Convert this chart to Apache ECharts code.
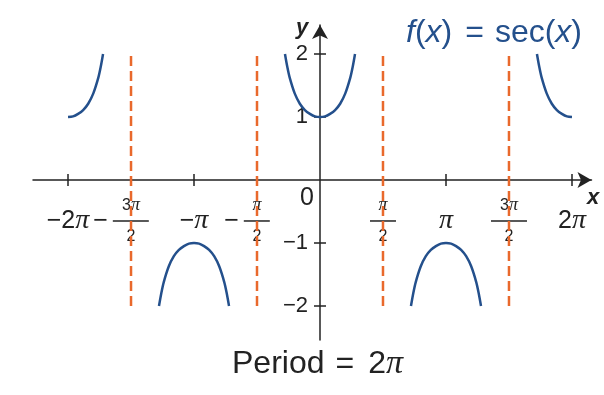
<!DOCTYPE html>
<html><head><meta charset="utf-8">
<script src="https://cdn.jsdelivr.net/npm/echarts@6/dist/echarts.min.js"></script>
<style>html,body{margin:0;padding:0;background:#fff}#c{width:604px;height:395px}</style>
</head><body><div id="c"></div>
<script>
// x values are in units of π
const leftBranchX = [-2, -1.96, -1.92, -1.88, -1.84, -1.80, -1.76, -1.74, -1.722];
const leftBranchY = [1.0, 1.01, 1.05, 1.11, 1.21, 1.37, 1.62, 1.80, 2.0];
const negBranch1X = [-1.278, -1.26, -1.24, -1.20, -1.16, -1.12, -1.08, -1.04, -1, -0.96, -0.92, -0.88, -0.84, -0.80, -0.76, -0.74, -0.722];
const negBranch1Y = [-2.0, -1.80, -1.62, -1.37, -1.21, -1.11, -1.05, -1.01, -1.0, -1.01, -1.05, -1.11, -1.21, -1.37, -1.62, -1.80, -2.0];
const centerBranchX = [-0.278, -0.26, -0.24, -0.20, -0.16, -0.12, -0.08, -0.04, 0, 0.04, 0.08, 0.12, 0.16, 0.20, 0.24, 0.26, 0.278];
const centerBranchY = [2.0, 1.80, 1.62, 1.37, 1.21, 1.11, 1.05, 1.01, 1.0, 1.01, 1.05, 1.11, 1.21, 1.37, 1.62, 1.80, 2.0];
const negBranch2X = [0.722, 0.74, 0.76, 0.80, 0.84, 0.88, 0.92, 0.96, 1, 1.04, 1.08, 1.12, 1.16, 1.20, 1.24, 1.26, 1.278];
const negBranch2Y = [-2.0, -1.80, -1.62, -1.37, -1.21, -1.11, -1.05, -1.01, -1.0, -1.01, -1.05, -1.11, -1.21, -1.37, -1.62, -1.80, -2.0];
const rightBranchX = [1.722, 1.74, 1.76, 1.80, 1.84, 1.88, 1.92, 1.96, 2];
const rightBranchY = [2.0, 1.80, 1.62, 1.37, 1.21, 1.11, 1.05, 1.01, 1.0];

const asymptotes = [-1.5, -0.5, 0.5, 1.5];
const asymptoteSpan = [-2, 2];

const xTickValues = [-2, -1, 1, 2];
const xLabelValues = [-2, -1.5, -1, -0.5, 0, 0.5, 1, 1.5, 2];
const xLabelTexts = ['−2π', '−3π/2', '−π', '−π/2', '0', 'π/2', 'π', '3π/2', '2π'];
const yTickValues = [-2, -1, 1, 2];
const yLabelTexts = ['−2', '−1', '1', '2'];

const BLUE = '#24508c';
const ORANGE = '#e9692c';
const INK = '#222';
const SANS = 'Liberation Sans, Arial, sans-serif';
const SERIF = 'Liberation Serif, Times New Roman, serif';

function zip(xs, ys) { return xs.map((x, i) => [x, ys[i]]); }

function piRich(s, tStyle, pStyle) {
  return s.split(/(π)/).filter(p => p !== '').map(p => p === 'π' ? '{' + pStyle + '|π}' : '{' + tStyle + '|' + p + '}').join('');
}

function fmtX(v) {
  const i = xLabelValues.findIndex(a => Math.abs(a - v) < 1e-6);
  if (i < 0) return '';
  let s = xLabelTexts[i];
  if (s === '0') return '{z|0}';
  const neg = s[0] === '−';
  if (s.indexOf('/') >= 0) {
    if (neg) s = s.slice(1);
    const [num, den] = s.split('/');
    const barStyle = num.length > 1 ? 'barW' : 'bar';
    return piRich(num, 'n', 'np') + '\n' +
      (neg ? '{m|−}' : '') + '{' + barStyle + '| }' + (neg ? '{sp| }' : '') + '\n' +
      '{d|' + den + '}';
  }
  return piRich(s, 't', 'pi');
}

function fmtY(v) {
  const i = yTickValues.findIndex(a => Math.abs(a - v) < 1e-6);
  return i < 0 ? '' : yLabelTexts[i];
}

const W = 604, H = 395;
const G = { left: 33, right: 12.5, top: 25, bottom: 55 };
const xRange = { min: -2.278, max: 2.155 };
const yRange = { min: -2.54, max: 2.46 };
const gridW = W - G.left - G.right;
const gridH = H - G.top - G.bottom;
// where the value 0 falls inside the grid (used to move the axes through the origin)
const zeroFromLeft = (0 - xRange.min) / (xRange.max - xRange.min) * gridW;
const zeroFromBottom = (0 - yRange.min) / (yRange.max - yRange.min) * gridH;

const axisLineStyle = { color: INK, width: 1.5 };

const curves = [
  zip(leftBranchX, leftBranchY),
  zip(negBranch1X, negBranch1Y),
  zip(centerBranchX, centerBranchY),
  zip(negBranch2X, negBranch2Y),
  zip(rightBranchX, rightBranchY)
];

const series = [];
asymptotes.forEach(a => {
  series.push({
    type: 'line', data: asymptoteSpan.map(y => [a, y]), showSymbol: false, symbol: 'none',
    lineStyle: { color: ORANGE, width: 2.5, type: [10, 5] }, silent: true, z: 3
  });
});
curves.forEach(c => {
  series.push({
    type: 'line', data: c, showSymbol: false, symbol: 'none', smooth: 0.3,
    lineStyle: { color: BLUE, width: 2.5 }, silent: true, z: 4
  });
});

const chart = echarts.init(document.getElementById('c'), null, { renderer: 'canvas' });
chart.setOption({
  animation: false,
  backgroundColor: '#fff',
  grid: { left: G.left, right: G.right, top: G.top, bottom: G.bottom, containLabel: false, outerBoundsMode: 'none' },
  title: [
    {
      text: '{i|f}{r|(}{i|x}{r|)}{eq|=}{r|sec(}{i|x}{r|)}',
      left: 406, top: 17, padding: 0,
      textStyle: {
        fontWeight: 'normal',
        rich: {
          i: { fontFamily: SANS, fontSize: 32, fontStyle: 'italic', fontWeight: 'normal', color: BLUE },
          r: { fontFamily: SANS, fontSize: 32, fontWeight: 'normal', color: BLUE },
          eq: { fontFamily: SANS, fontSize: 32, fontWeight: 'normal', color: BLUE, padding: [0, 11, 0, 13] }
        }
      }
    },
    {
      text: '{t|Period}{eq|=}{t|2}{pi|π}',
      left: 232, top: 347, padding: 0,
      textStyle: {
        fontWeight: 'normal',
        rich: {
          t: { fontFamily: SANS, fontSize: 32, fontWeight: 'normal', color: INK },
          eq: { fontFamily: SANS, fontSize: 32, fontWeight: 'normal', color: INK, padding: [0, 14, 0, 11] },
          pi: { fontFamily: SERIF, fontSize: 34, fontStyle: 'italic', fontWeight: 'normal', color: INK }
        }
      }
    }
  ],
  xAxis: [
    {
      type: 'value', min: xRange.min, max: xRange.max, position: 'bottom', offset: -zeroFromBottom,
      axisLine: { show: true, onZero: false, lineStyle: axisLineStyle, symbol: ['none', 'arrow'], symbolSize: [12, 14] },
      axisTick: { show: true, customValues: xTickValues, length: 6, lineStyle: axisLineStyle },
      splitLine: { show: false },
      name: '{a|x}', nameLocation: 'end', nameGap: 0, nameMoveOverlap: false,
      nameTextStyle: {
        align: 'center', verticalAlign: 'middle',
        rich: { a: { fontFamily: SANS, fontSize: 22, fontWeight: 'bold', fontStyle: 'italic', color: INK, padding: [36, 0, 0, 3] } }
      },
      axisLabel: {
        show: true, customValues: xLabelValues, formatter: fmtX, margin: 41, verticalAlign: 'middle', hideOverlap: false,
        color: INK,
        rich: {
          t: { fontFamily: SANS, fontSize: 25, color: INK, align: 'center' },
          pi: { fontFamily: SERIF, fontSize: 28, fontStyle: 'italic', color: INK, align: 'center' },
          n: { fontFamily: SANS, fontSize: 16, color: INK, align: 'center', lineHeight: 29 },
          np: { fontFamily: SERIF, fontSize: 18, fontStyle: 'italic', color: INK, align: 'center', lineHeight: 29 },
          d: { fontFamily: SANS, fontSize: 16, color: INK, align: 'center', lineHeight: 29 },
          bar: { width: 26, height: 1.5, lineHeight: 2, backgroundColor: INK, align: 'center', fontSize: 1 },
          barW: { width: 36, height: 1.5, lineHeight: 2, backgroundColor: INK, align: 'center', fontSize: 1 },
          m: { fontFamily: SANS, fontSize: 25, color: INK, align: 'center', lineHeight: 2, padding: [0, 5, 0, 0] },
          sp: { width: 20, lineHeight: 2, align: 'center', fontSize: 1 },
          z: { fontFamily: SANS, fontSize: 25, color: INK, align: 'center', padding: [0, 26, 46, 0] }
        }
      }
    },
    {
      type: 'value', min: xRange.min, max: xRange.max, position: 'top', offset: -(gridH - zeroFromBottom),
      axisLine: { show: false, onZero: false },
      axisTick: { show: true, customValues: xTickValues, length: 6, lineStyle: axisLineStyle },
      axisLabel: { show: false }, splitLine: { show: false }
    }
  ],
  yAxis: [
    {
      type: 'value', min: yRange.min, max: yRange.max, position: 'left', offset: -zeroFromLeft,
      axisLine: { show: true, onZero: false, lineStyle: axisLineStyle, symbol: ['none', 'arrow'], symbolSize: [12, 14] },
      axisTick: { show: true, customValues: yTickValues, length: 6, lineStyle: axisLineStyle },
      splitLine: { show: false },
      name: '{a|y}', nameLocation: 'end', nameGap: 0, nameMoveOverlap: false,
      nameTextStyle: {
        align: 'center', verticalAlign: 'middle',
        rich: { a: { fontFamily: SANS, fontSize: 22, fontWeight: 'bold', fontStyle: 'italic', color: INK, padding: [6, 36, 0, 0] } }
      },
      axisLabel: {
        show: true, customValues: yTickValues, formatter: fmtY, margin: 12, hideOverlap: false,
        fontFamily: SANS, fontSize: 22, color: INK, verticalAlign: 'middle', padding: [4, 0, 0, 0]
      }
    },
    {
      type: 'value', min: yRange.min, max: yRange.max, position: 'right', offset: -(gridW - zeroFromLeft),
      axisLine: { show: false, onZero: false },
      axisTick: { show: true, customValues: yTickValues, length: 6, lineStyle: axisLineStyle },
      axisLabel: { show: false }, splitLine: { show: false }
    }
  ],
  series: series
});
</script>
</body></html>
